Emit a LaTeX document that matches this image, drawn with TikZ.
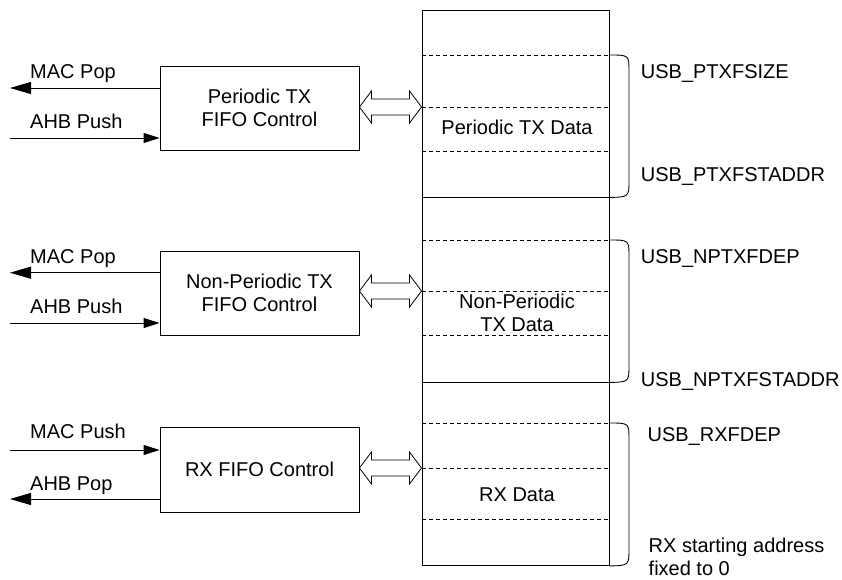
\documentclass[tikz,border=0pt]{standalone}
\usepackage{fontspec}
\setmainfont{Liberation Sans}
\usetikzlibrary{arrows.meta,calc}
\tikzset{
  txt/.style={font=\fontsize{20}{23}\selectfont, inner sep=0pt},
  ctl/.style={draw, line width=0.9pt, minimum width=199pt, inner sep=0pt, align=center, font=\fontsize{20}{23}\selectfont},
  memsec/.style={draw, line width=0.9pt, minimum width=187pt, inner sep=0pt},
  dsh/.style={line width=0.7pt, dash pattern=on 4pt off 3pt},
  brace/.style={line width=0.9pt},
  sigout/.style={line width=0.9pt, -{Triangle[length=21pt,width=12pt]}},
  sigin/.style={line width=0.9pt, -{Triangle[length=16pt,width=10pt]}},
  hollowarr/.style={draw, fill=white, line width=0.8pt, line join=miter}
}
\newcommand\dblarrow[2]{%
  \path[hollowarr] let \p1=(#1), \p2=(#2) in
    (\x1,\y2) -- ++(12pt,16pt) -- ++(0pt,-8pt) -- (\x2-12pt,\y2+8pt) -- ++(0pt,8pt)
    -- (\x2,\y2) -- ++(-12pt,-16pt) -- ++(0pt,8pt) -- (\x1+12pt,\y2-8pt) -- ++(0pt,-8pt) -- cycle;}
\begin{document}
\begin{tikzpicture}[x=1pt,y=-1pt]
\useasboundingbox (0,0) rectangle (842,580);

% memory column
\node[memsec, minimum height=187pt] (m1) at (515.5,103.5) {};
\node[memsec, minimum height=185pt] (m2) at (515.5,289.5) {};
\node[memsec, minimum height=183.5pt] (m3) at (515.5,473.75) {};

\draw[dsh] (m1.west |- 0,55) -- (m1.east |- 0,55);
\draw[dsh] (m1.west |- 0,107) -- (m1.east |- 0,107);
\draw[dsh] (m1.west |- 0,151) -- (m1.east |- 0,151);
\draw[dsh] (m2.west |- 0,240) -- (m2.east |- 0,240);
\draw[dsh] (m2.west |- 0,291) -- (m2.east |- 0,291);
\draw[dsh] (m2.west |- 0,335) -- (m2.east |- 0,335);
\draw[dsh] (m3.west |- 0,423) -- (m3.east |- 0,423);
\draw[dsh] (m3.west |- 0,468) -- (m3.east |- 0,468);
\draw[dsh] (m3.west |- 0,519) -- (m3.east |- 0,519);

\node[txt] (d1) at (517,127) {Periodic TX Data};
\node[txt, align=center] (d2) at (517,313) {Non-Periodic\\TX Data};
\node[txt] (d3) at (517,495) {RX Data};

% braces
\draw[brace] (m1.east |- 0,55) .. controls (629,55) .. (629,72) -- (629,180) .. controls (629,197) .. (m1.south east);
\draw[brace] (m2.east |- 0,240) .. controls (629,240) .. (629,257) -- (629,365) .. controls (629,382) .. (m2.south east);
\draw[brace] (m3.east |- 0,423) .. controls (629,423) .. (629,440) -- (629,548) .. controls (629,565.5) .. (m3.south east);

\node[txt, anchor=base west] (r1) at (640.7,78.3) {USB\_PTXFSIZE};
\node[txt, anchor=base west] (r2) at (640.7,181.7) {USB\_PTXFSTADDR};
\node[txt, anchor=base west] (r3) at (640.7,263.3) {USB\_NPTXFDEP};
\node[txt, anchor=base west] (r4) at (640.7,386.7) {USB\_NPTXFSTADDR};
\node[txt, anchor=base west] (r5) at (647.5,441.7) {USB\_RXFDEP};
\node[txt, anchor=south west, align=left] (r6) at (648.5,575.5) {RX starting address\\fixed to 0};

% control boxes
\node[ctl, minimum height=84pt] (c1) at (259.5,108) {Periodic TX\\FIFO Control};
\node[ctl, minimum height=84pt] (c2) at (259.5,293) {Non-Periodic TX\\FIFO Control};
\node[ctl, minimum height=85pt] (c3) at (259.5,469.5) {RX FIFO Control};

% hollow double arrows
\coordinate (t1) at (m1.west |- 0,107);
\coordinate (t2) at (m2.west |- 0,291);
\coordinate (t3) at (m3.west |- 0,468);
\dblarrow{c1.east}{t1}
\dblarrow{c2.east}{t2}
\dblarrow{c3.east}{t3}

% signal arrows
\coordinate (e1) at (10,88);
\coordinate (e2) at (10,138);
\coordinate (e3) at (10,272.7);
\coordinate (e4) at (10,323);
\coordinate (e5) at (10,450);
\coordinate (e6) at (10,499);
\draw[sigout] (c1.west |- e1) -- (e1);
\draw[sigin] (e2) -- (c1.west |- e2);
\draw[sigout] (c2.west |- e3) -- (e3);
\draw[sigin] (e4) -- (c2.west |- e4);
\draw[sigin] (e5) -- (c3.west |- e5);
\draw[sigout] (c3.west |- e6) -- (e6);

\node[txt, anchor=base west] (l1) at (30,78.3) {MAC Pop};
\node[txt, anchor=base west] (l2) at (30,129) {AHB Push};
\node[txt, anchor=base west] (l3) at (30,263.3) {MAC Pop};
\node[txt, anchor=base west] (l4) at (30,313.3) {AHB Push};
\node[txt, anchor=base west] (l5) at (30,438.3) {MAC Push};
\node[txt, anchor=base west] (l6) at (30,490) {AHB Pop};
\end{tikzpicture}
\end{document}
